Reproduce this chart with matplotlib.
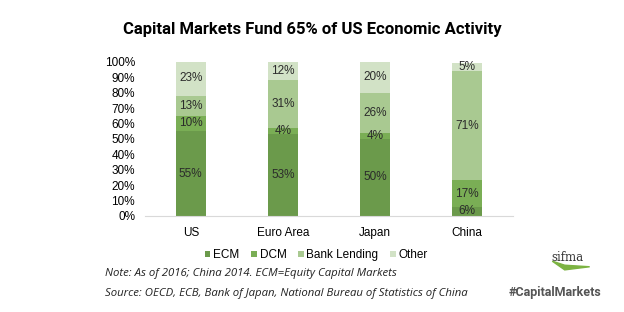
import matplotlib.pyplot as plt
from matplotlib.patches import Polygon

regions = ["US", "Euro Area", "Japan", "China"]
series_names = ["ECM", "DCM", "Bank Lending", "Other"]
ecm = [55, 53, 50, 6]
dcm = [10, 4, 4, 17]
bank_lending = [13, 31, 26, 71]
other = [23, 12, 20, 5]

colors = ["#6b9a4b", "#7aae55", "#a9c991", "#d2e2c6"]
text_font = "Liberation Sans"

fig = plt.figure(figsize=(6.24, 3.12), dpi=100)
ax = fig.add_axes([0.232, 0.308, 0.590, 0.494])

x = range(len(regions))
bottom = [0] * len(regions)
for name, vals, col in zip(series_names, [ecm, dcm, bank_lending, other], colors):
    ax.bar(x, vals, bottom=bottom, width=0.33, color=col, label=name)
    for i, v in enumerate(vals):
        ax.text(i, bottom[i] + v / 2, f"{v}%", ha="center", va="center",
                fontsize=8.5, color="#2b2b2b", family=text_font)
    bottom = [b + v for b, v in zip(bottom, vals)]

ax.set_ylim(0, 100)
ax.set_xlim(-0.5, 3.5)
ax.set_yticks(range(0, 101, 10))
ax.set_yticklabels([f"{t}%" for t in range(0, 101, 10)], family=text_font, fontsize=8.5)
ax.set_xticks(list(x))
ax.set_xticklabels(regions, family=text_font, fontsize=8.5)
ax.tick_params(axis="x", length=0, pad=8)
ax.tick_params(axis="y", length=0, pad=7)
for s in ["top", "right", "left"]:
    ax.spines[s].set_visible(False)
ax.spines["bottom"].set_color("#d9d9d9")

handles, labels = ax.get_legend_handles_labels()
fig.legend(handles, labels, loc="center", bbox_to_anchor=(0.507, 0.182), ncol=4,
           frameon=False, handlelength=0.45, handleheight=0.45, handletextpad=0.25,
           columnspacing=1.0, prop={"family": text_font, "size": 8.5})

fig.text(0.5, 0.905, "Capital Markets Fund 65% of US Economic Activity",
         ha="center", va="center", fontsize=12, fontweight="bold", family="Roboto")

fig.text(0.168, 0.122, "Note: As of 2016; China 2014. ECM=Equity Capital Markets",
         ha="left", va="center", fontsize=8.2, style="italic", family="Open Sans", color="#222222")
fig.text(0.168, 0.058, "Source: OECD, ECB, Bank of Japan, National Bureau of Statistics of China",
         ha="left", va="center", fontsize=8.2, style="italic", family="Open Sans", color="#222222")

fig.text(0.963, 0.064, "#CapitalMarkets", ha="right", va="center", fontsize=9,
         fontweight="bold", family="Roboto", color="#555555")
fig.text(0.935, 0.175, "sifma", ha="right", va="center", fontsize=8.5,
         family="DejaVu Serif", color="#333333")
fig.patches.append(Polygon([[0.885, 0.163], [0.905, 0.135], [0.945, 0.145], [0.905, 0.150]],
                           closed=True, transform=fig.transFigure, color="#7cb342"))

fig.savefig("out.png", dpi=100)
